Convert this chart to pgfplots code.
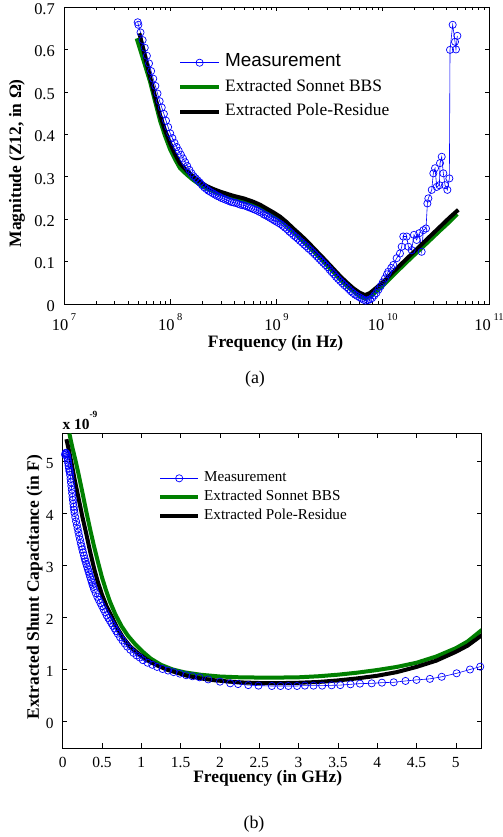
\documentclass[border=0pt]{standalone}
\usepackage{fontspec}
\setmainfont{Liberation Serif}
\setsansfont{Liberation Sans}
\usepackage{pgfplots}
\pgfplotsset{compat=1.18}
\definecolor{mgreen}{rgb}{0,0.5,0}
\definecolor{mblue}{rgb}{0,0,1}
\newcommand{\xl}[1]{10\,\raisebox{10.5bp}{\fontsize{10.5}{10.5}\selectfont #1}}

\pgfplotsset{
  matlab/.style={
    scale only axis,
    /pgf/number format/assume math mode=true,
    axis line style={line width=0.9bp},
    major tick length=4.5bp, minor tick length=3bp,
    every tick/.style={black, line width=0.6bp},
    label style={font=\bfseries\fontsize{17.5}{17.5}\selectfont},
    legend cell align=left,
    legend image code/.code={\draw[mark repeat=2,mark phase=2,##1] plot coordinates {(0bp,0bp) (19.5bp,0bp) (39bp,0bp)};},
  },
  meas/.style={color=mblue, line width=0.6bp, mark=o, mark size=3.6bp, mark options={line width=0.7bp, solid}},
  bbs/.style={color=mgreen, line width=4bp, line join=round},
  pres/.style={color=black, line width=4bp, line join=round},
}

\begin{document}
\begin{tikzpicture}
\useasboundingbox (0,0) rectangle (503bp,837bp);

% (a) magnitude of Z12
\begin{axis}[matlab,
  at={(64bp,533bp)}, anchor=south west, width=425bp, height=297bp,
  xmode=log, xmin=1e7, xmax=1e11, ymin=0, ymax=0.7,
  xtick={1e7,1e8,1e9,1e10,1e11},
  xticklabels={\xl{7},\xl{8},\xl{9},\xl{10},\xl{11}},
  minor xtick={2e7,3e7,4e7,5e7,6e7,7e7,8e7,9e7,2e8,3e8,4e8,5e8,6e8,7e8,8e8,9e8,
    2e9,3e9,4e9,5e9,6e9,7e9,8e9,9e9,2e10,3e10,4e10,5e10,6e10,7e10,8e10,9e10},
  ytick={0,0.1,0.2,0.3,0.4,0.5,0.6,0.7},
  yticklabels={0,0.1,0.2,0.3,0.4,0.5,0.6,0.7},
  tick label style={font=\fontsize{16.5}{16.5}\selectfont},
  xticklabel style={anchor=north, inner sep=0pt, yshift=-9bp},
  yticklabel style={anchor=east, inner sep=0pt, xshift=-9bp, yshift=-2bp},
  xlabel={Frequency (in Hz)},
  ylabel={Magnitude (Z12, in Ω)},
  xlabel style={at={(axis description cs:0.4976,-0.1448)}, anchor=base},
  ylabel style={at={(axis description cs:-0.1012,0.474)}, anchor=base},
  legend style={at={(rel axis cs:0.268,0.84)}, anchor=north west, draw=none, fill=none,
    inner sep=0pt, row sep=8.5bp, column sep=4bp,
    font=\fontsize{17.5}{17.5}\selectfont,
    nodes={inner sep=0pt, text height=12bp, text depth=4bp}},
]
\addplot[meas] coordinates {
(4.94e7,0.664) (5.012e7,0.658) (5.248e7,0.640) (5.495e7,0.622) (5.754e7,0.604)
(6.026e7,0.585) (6.310e7,0.567) (6.607e7,0.549) (6.918e7,0.531) (7.244e7,0.514)
(7.586e7,0.496) (7.943e7,0.478) (8.318e7,0.463) (8.710e7,0.448) (9.120e7,0.432)
(9.550e7,0.417) (1.000e8,0.402) (1.047e8,0.391) (1.096e8,0.380) (1.148e8,0.370)
(1.202e8,0.361) (1.259e8,0.352) (1.318e8,0.343) (1.380e8,0.334) (1.445e8,0.325)
(1.514e8,0.316) (1.585e8,0.308) (1.660e8,0.301) (1.738e8,0.296) (1.820e8,0.291)
(1.905e8,0.286) (1.995e8,0.280) (2.089e8,0.275) (2.188e8,0.271) (2.291e8,0.267)
(2.399e8,0.264) (2.512e8,0.261) (2.630e8,0.258) (2.754e8,0.255) (2.884e8,0.253)
(3.020e8,0.250) (3.162e8,0.248) (3.311e8,0.246) (3.467e8,0.244) (3.631e8,0.242)
(3.802e8,0.240) (3.981e8,0.239) (4.169e8,0.238) (4.365e8,0.236) (4.571e8,0.234)
(4.786e8,0.233) (5.012e8,0.232) (5.248e8,0.230) (5.495e8,0.228) (5.754e8,0.226)
(6.026e8,0.224) (6.310e8,0.222) (6.607e8,0.220) (6.918e8,0.217) (7.244e8,0.215)
(7.586e8,0.211) (7.943e8,0.209) (8.318e8,0.206) (8.710e8,0.203) (9.120e8,0.200)
(9.550e8,0.197) (1.000e9,0.194) (1.047e9,0.191) (1.096e9,0.188) (1.148e9,0.184)
(1.202e9,0.180) (1.259e9,0.176) (1.318e9,0.171) (1.380e9,0.167) (1.445e9,0.162)
(1.514e9,0.158) (1.585e9,0.154) (1.660e9,0.149) (1.738e9,0.145) (1.820e9,0.140)
(1.905e9,0.136) (1.995e9,0.131) (2.089e9,0.127) (2.188e9,0.122) (2.291e9,0.117)
(2.399e9,0.112) (2.512e9,0.107) (2.630e9,0.102) (2.754e9,0.097) (2.884e9,0.092)
(3.020e9,0.087) (3.162e9,0.081) (3.311e9,0.075) (3.467e9,0.070) (3.631e9,0.064)
(3.802e9,0.059) (3.981e9,0.054) (4.169e9,0.049) (4.365e9,0.044) (4.571e9,0.040)
(4.786e9,0.035) (5.012e9,0.030) (5.248e9,0.026) (5.495e9,0.022) (5.754e9,0.019)
(6.026e9,0.016) (6.310e9,0.013) (6.607e9,0.010) (6.918e9,0.008) (7.244e9,0.009)
(7.586e9,0.011) (7.943e9,0.014) (8.318e9,0.020) (8.710e9,0.026) (9.120e9,0.034)
(9.550e9,0.042) (1.000e10,0.051) (1.047e10,0.060) (1.096e10,0.070) (1.127e10,0.076)
(1.202e10,0.085) (1.256e10,0.092) (1.352e10,0.108) (1.452e10,0.119) (1.507e10,0.135)
(1.560e10,0.159) (1.679e10,0.159) (1.742e10,0.135) (1.871e10,0.127) (1.968e10,0.163)
(2.084e10,0.151) (2.208e10,0.167) (2.323e10,0.123) (2.410e10,0.174) (2.553e10,0.178)
(2.630e10,0.237) (2.685e10,0.249) (2.891e10,0.269) (2.992e10,0.308) (3.105e10,0.320)
(3.221e10,0.276) (3.412e10,0.280) (3.459e10,0.332) (3.589e10,0.347) (3.715e10,0.308)
(3.855e10,0.280) (4.055e10,0.269) (4.236e10,0.296) (4.295e10,0.599) (4.550e10,0.658)
(4.786e10,0.618) (4.887e10,0.600) (5.035e10,0.632)
};
\addlegendentry{\sffamily\fontsize{19}{19}\selectfont Measurement}
\addplot[bbs] coordinates {
(4.83e7,0.626) (5.75e7,0.565) (6.44e7,0.525) (7.19e7,0.478) (8.02e7,0.432)
(8.91e7,0.397) (9.95e7,0.365) (1.109e8,0.341) (1.236e8,0.320) (1.429e8,0.305)
(1.648e8,0.292) (1.905e8,0.281) (2.203e8,0.272) (2.541e8,0.266) (2.938e8,0.260)
(3.388e8,0.255) (3.926e8,0.250) (4.898e8,0.243) (6.053e8,0.236) (6.998e8,0.228)
(8.072e8,0.219) (9.333e8,0.210) (1.079e9,0.199) (1.245e9,0.186) (1.439e9,0.171)
(1.660e9,0.156) (1.923e9,0.141) (2.291e9,0.121) (2.761e9,0.100) (3.311e9,0.079)
(3.963e9,0.058) (4.571e9,0.043) (5.284e9,0.030) (6.026e9,0.019) (6.808e9,0.013)
(7.586e9,0.018) (8.770e9,0.030) (1.047e10,0.048) (1.259e10,0.068) (1.622e10,0.095)
(2.084e10,0.121) (2.692e10,0.147) (3.459e10,0.173) (4.266e10,0.194) (5.012e10,0.212)
};
\addlegendentry{Extracted Sonnet BBS}
\addplot[pres] coordinates {
(5.12e7,0.638) (5.75e7,0.586) (6.44e7,0.536) (7.19e7,0.489) (8.02e7,0.445)
(8.91e7,0.410) (9.95e7,0.379) (1.109e8,0.353) (1.236e8,0.331) (1.429e8,0.314)
(1.648e8,0.300) (1.905e8,0.288) (2.203e8,0.278) (2.541e8,0.271) (2.938e8,0.265)
(3.388e8,0.260) (3.926e8,0.255) (4.898e8,0.249) (6.053e8,0.241) (6.998e8,0.234)
(8.072e8,0.225) (9.333e8,0.216) (1.079e9,0.206) (1.245e9,0.193) (1.439e9,0.178)
(1.660e9,0.164) (1.923e9,0.149) (2.291e9,0.129) (2.761e9,0.108) (3.311e9,0.087)
(3.963e9,0.066) (4.571e9,0.051) (5.284e9,0.037) (6.026e9,0.027) (6.808e9,0.021)
(7.586e9,0.026) (8.770e9,0.039) (1.047e10,0.056) (1.259e10,0.076) (1.622e10,0.103)
(2.084e10,0.129) (2.692e10,0.156) (3.459e10,0.182) (4.266e10,0.204) (5.140e10,0.222)
};
\addlegendentry{Extracted Pole-Residue}
\end{axis}

% (b) extracted shunt capacitance, values in units of 1e-9 F
\begin{axis}[matlab,
  at={(62.7bp,89bp)}, anchor=south west, width=418.3bp, height=315bp,
  xmin=0, xmax=5.32, ymin=-0.52, ymax=5.54,
  xtick={0,0.5,1,1.5,2,2.5,3,3.5,4,4.5,5},
  ytick={0,1,2,3,4,5},
  tick label style={font=\fontsize{15.5}{15.5}\selectfont},
  xticklabel style={anchor=north, inner sep=0pt, yshift=-9bp},
  yticklabel style={anchor=east, inner sep=0pt, xshift=-9bp, yshift=-2bp},
  xlabel={Frequency (in GHz)},
  ylabel={Extracted Shunt Capacitance (in F)},
  xlabel style={at={(axis description cs:0.49,-0.111)}, anchor=base},
  ylabel style={at={(axis description cs:-0.0567,0.51)}, anchor=base},
  legend image code/.code={\draw[mark repeat=2,mark phase=2,#1] plot coordinates {(0bp,0bp) (19bp,0bp) (38bp,0bp)};},
  legend style={at={(rel axis cs:0.2278,0.879)}, anchor=north west, draw=none, fill=none,
    inner sep=0pt, row sep=4.8bp, column sep=4bp,
    font=\fontsize{15.2}{15.2}\selectfont,
    nodes={inner sep=0pt, text height=10.5bp, text depth=3.5bp}},
]
\addplot[meas] coordinates {
(0.030,5.12) (0.035,5.15) (0.040,5.16) (0.045,5.15) (0.050,5.13) (0.055,5.10)
(0.060,5.06) (0.065,5.01) (0.070,4.96) (0.075,4.91) (0.080,4.86) (0.085,4.81)
(0.090,4.79) (0.095,4.73) (0.100,4.66) (0.105,4.59) (0.110,4.52) (0.115,4.45)
(0.120,4.38) (0.125,4.31) (0.130,4.25) (0.135,4.18) (0.140,4.12) (0.145,4.06)
(0.150,4.00) (0.16,3.92) (0.17,3.84) (0.18,3.77) (0.19,3.70) (0.20,3.63)
(0.21,3.56) (0.22,3.49) (0.23,3.42) (0.24,3.36) (0.25,3.30) (0.26,3.24)
(0.27,3.18) (0.28,3.12) (0.29,3.07) (0.30,3.02) (0.31,2.97) (0.32,2.92)
(0.33,2.87) (0.34,2.82) (0.35,2.77) (0.36,2.72) (0.37,2.67) (0.38,2.62)
(0.39,2.58) (0.40,2.53) (0.42,2.46) (0.44,2.39) (0.46,2.33) (0.48,2.27)
(0.50,2.21) (0.52,2.15) (0.54,2.09) (0.56,2.03) (0.58,1.98) (0.60,1.93)
(0.62,1.88) (0.64,1.83) (0.66,1.78) (0.68,1.73) (0.70,1.68) (0.73,1.61)
(0.76,1.55) (0.79,1.49) (0.82,1.43) (0.86,1.37) (0.90,1.31) (0.94,1.26)
(0.98,1.22) (1.02,1.17) (1.08,1.12) (1.14,1.08) (1.20,1.04) (1.27,1.00)
(1.34,0.97) (1.41,0.94) (1.49,0.91) (1.57,0.88) (1.65,0.86) (1.74,0.84)
(1.85,0.80) (2.00,0.756) (2.13,0.724) (2.23,0.710) (2.36,0.690) (2.49,0.680)
(2.66,0.673) (2.77,0.673) (2.87,0.673) (2.98,0.673) (3.08,0.680) (3.19,0.680)
(3.30,0.680) (3.42,0.686) (3.53,0.690) (3.66,0.705) (3.78,0.718) (3.93,0.724)
(4.06,0.737) (4.21,0.744) (4.36,0.770) (4.50,0.790) (4.67,0.810) (4.82,0.850)
(5.01,0.917) (5.18,0.990) (5.31,1.045) (5.45,1.100)
};
\addlegendentry{Measurement}
\addplot[bbs] coordinates {
(0.085,5.53) (0.12,5.28) (0.16,5.03) (0.2,4.76) (0.25,4.40) (0.3,4.03)
(0.35,3.68) (0.4,3.35) (0.45,3.05) (0.5,2.76) (0.55,2.52) (0.6,2.30)
(0.67,2.05) (0.75,1.82) (0.83,1.64) (0.92,1.48) (1.02,1.33) (1.12,1.20)
(1.25,1.08) (1.4,0.99) (1.55,0.935) (1.75,0.89) (2.0,0.855) (2.25,0.84)
(2.5,0.835) (2.75,0.835) (3.0,0.84) (3.25,0.86) (3.5,0.89) (3.75,0.93)
(4.0,0.98) (4.25,1.04) (4.5,1.12) (4.75,1.24) (5.0,1.40) (5.15,1.53) (5.33,1.75)
};
\addlegendentry{Extracted Sonnet BBS}
\addplot[pres] coordinates {
(0.047,5.42) (0.08,5.20) (0.114,4.95) (0.15,4.66) (0.2,4.30) (0.25,3.93)
(0.3,3.60) (0.35,3.25) (0.4,2.93) (0.45,2.66) (0.5,2.43) (0.56,2.20)
(0.62,2.02) (0.69,1.80) (0.77,1.60) (0.86,1.43) (0.96,1.30) (1.07,1.18)
(1.2,1.07) (1.32,0.99) (1.45,0.93) (1.58,0.87) (1.75,0.82) (1.92,0.785)
(2.1,0.76) (2.3,0.74) (2.5,0.73) (2.75,0.728) (3.0,0.735) (3.25,0.75)
(3.5,0.78) (3.75,0.82) (4.0,0.87) (4.25,0.94) (4.5,1.04) (4.75,1.16)
(5.0,1.33) (5.15,1.45) (5.33,1.65)
};
\addlegendentry{Extracted Pole-Residue}
\end{axis}

\node[anchor=base west, inner sep=0pt, font=\bfseries\fontsize{15.5}{15.5}\selectfont]
  at (62.3bp,407bp) {x 10\raisebox{12bp}{\fontsize{9.5}{9.5}\selectfont -9}};
\node[anchor=base, font=\fontsize{18}{18}\selectfont] at (255bp,453bp) {(a)};
\node[anchor=base, font=\fontsize{18}{18}\selectfont] at (254bp,8.5bp) {(b)};
\end{tikzpicture}
\end{document}
